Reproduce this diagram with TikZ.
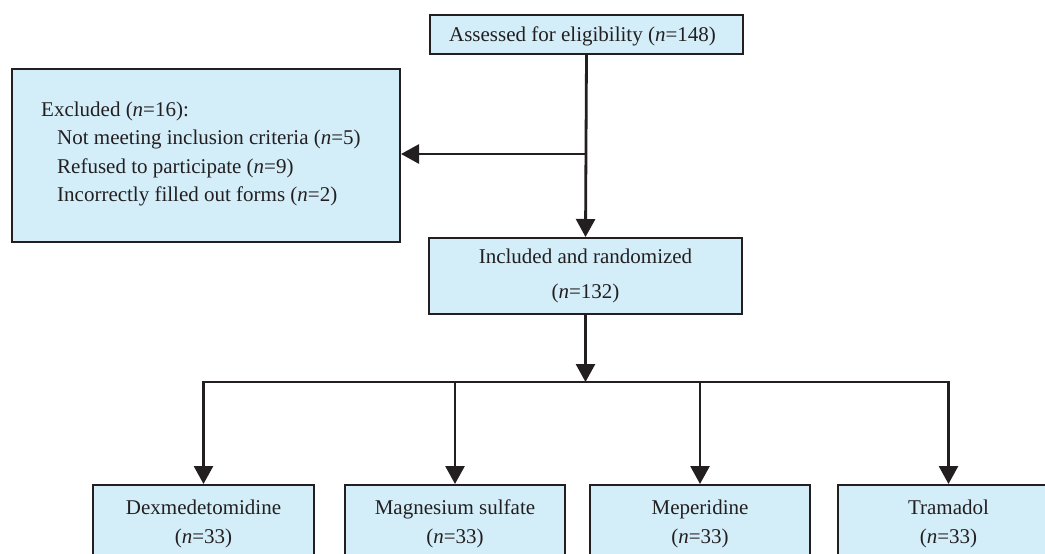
\documentclass[tikz,border=0pt]{standalone}
\usepackage{fontspec}
\setmainfont{Liberation Serif}
\usetikzlibrary{arrows.meta}
\definecolor{boxfill}{HTML}{D3EEF9}
\definecolor{boxline}{HTML}{231F20}
\tikzset{
  box/.style={draw=boxline, fill=boxfill, line width=2pt, inner sep=0pt, anchor=north west},
  arr/.style={draw=boxline, line width=2.8pt, -{Triangle[width=19pt,length=18pt]}},
  conn/.style={draw=boxline, line width=2.8pt, line cap=rect},
  txt/.style={font=\fontsize{21}{25}\selectfont, text=boxline, inner sep=0pt, anchor=base},
  ltxt/.style={txt, anchor=base west}
}
\begin{document}
\begin{tikzpicture}[x=1pt,y=-1pt]
\useasboundingbox (0,0) rectangle (1045,554);
\clip (0,0) rectangle (1045,554);
% boxes
\node[box, minimum width=313pt, minimum height=39pt] (assess) at (429,14) {};
\node[box, minimum width=388pt, minimum height=173pt] (excl) at (11,68) {};
\node[box, minimum width=313pt, minimum height=76pt] (incl) at (428,237) {};
\node[box, minimum width=221pt, minimum height=90pt] (g1) at (92,484) {};
\node[box, minimum width=220pt, minimum height=90pt] (g2) at (344,484) {};
\node[box, minimum width=220pt, minimum height=90pt] (g3) at (589,484) {};
\node[box, minimum width=221pt, minimum height=90pt] (g4) at (837,484) {};
% texts
\node[txt] (t0) at (582.5,41.5) {Assessed for eligibility (\textit{n}=148)};
\node[ltxt] (e0) at (41,116) {Excluded (\textit{n}=16):};
\node[ltxt] (e1) at (57,144.5) {Not meeting inclusion criteria (\textit{n}=5)};
\node[ltxt] (e2) at (57,173) {Refused to participate (\textit{n}=9)};
\node[ltxt] (e3) at (57,201.5) {Incorrectly filled out forms (\textit{n}=2)};
\node[txt] (i1) at (incl.center |- 0,263) {Included and randomized};
\node[txt] (i2) at (incl.center |- 0,298) {(\textit{n}=132)};
\node[txt] (a1) at (g1.north |- 0,514.5) {Dexmedetomidine};
\node[txt] (a2) at (g1.north |- 0,543) {(\textit{n}=33)};
\node[txt] (b1) at (g2.north |- 0,514.5) {Magnesium sulfate};
\node[txt] (b2) at (g2.north |- 0,543) {(\textit{n}=33)};
\node[txt] (c1) at (g3.north |- 0,514.5) {Meperidine};
\node[txt] (c2) at (g3.north |- 0,543) {(\textit{n}=33)};
\node[txt] (d1) at (g4.north |- 0,514.5) {Tramadol};
\node[txt] (d2) at (g4.north |- 0,543) {(\textit{n}=33)};
% connectors
\coordinate (br) at (assess.south |- 0,154);
\draw[arr] (assess.south) -- (incl.north);
\draw[arr] (br) -- (excl.east |- br);
\coordinate (bar) at (incl.south |- 0,382);
\draw[arr] (incl.south) -- (bar);
\coordinate (bl) at (g1.north |- bar);
\coordinate (brr) at (g4.north |- bar);
\draw[conn] (bl) -- (brr);
\draw[arr] (bl) -- (g1.north);
\draw[arr] (g2.north |- bar) -- (g2.north);
\draw[arr] (g3.north |- bar) -- (g3.north);
\draw[arr] (brr) -- (g4.north);
\end{tikzpicture}
\end{document}
